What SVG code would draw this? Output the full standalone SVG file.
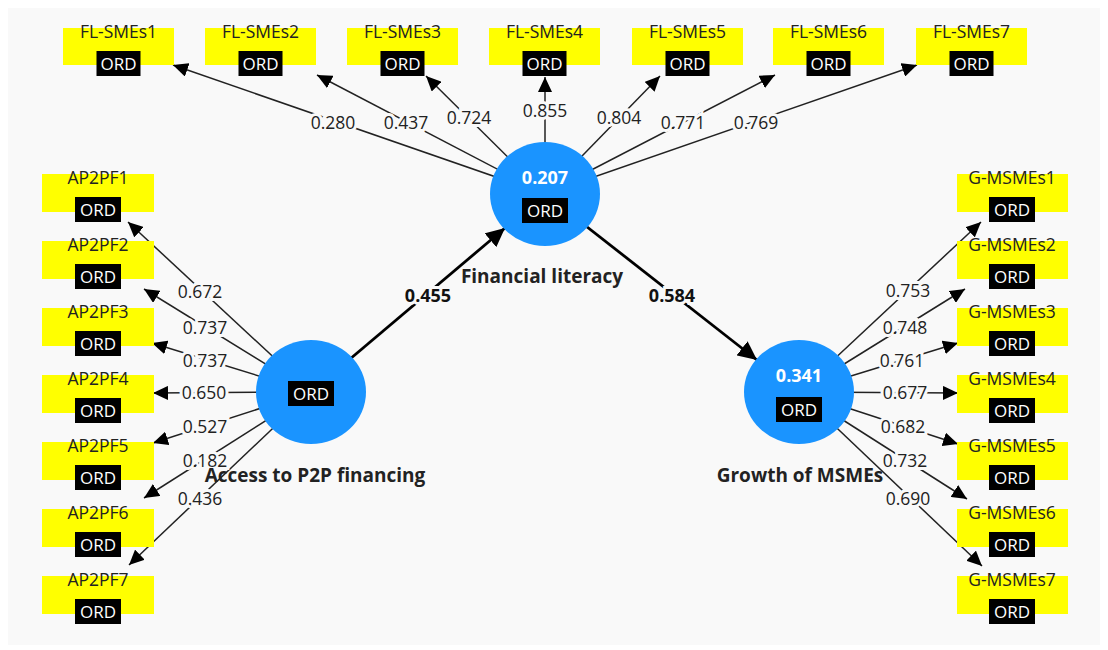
<svg xmlns="http://www.w3.org/2000/svg" width="1108" height="650" viewBox="0 0 1108 650">
<style>
.ind{fill:#ffff00}
.ordb{fill:#000}
.ordt{font-family:"Open Sans","Noto Sans",sans-serif;font-size:17px;fill:#fff;text-anchor:middle}
.name{font-family:"Open Sans","Noto Sans",sans-serif;font-size:17.5px;fill:#222;text-anchor:middle}
.lat{fill:#1a94ff}
.r2{font-family:"Open Sans","Noto Sans",sans-serif;font-size:18px;font-weight:bold;fill:#fff;text-anchor:middle}
.lname{font-family:"Open Sans","Noto Sans",sans-serif;font-size:19px;font-weight:bold;fill:#222;text-anchor:middle}
.w{font-family:"Open Sans","Noto Sans",sans-serif;font-size:17.5px;fill:#222;text-anchor:middle;stroke:#f9f9f9;stroke-width:6;paint-order:stroke}
.pw{font-family:"Open Sans","Noto Sans",sans-serif;font-size:18px;font-weight:bold;fill:#111;text-anchor:middle;stroke:#f9f9f9;stroke-width:6;paint-order:stroke}
.ln{stroke:#222;stroke-width:1.5;fill:none;marker-end:url(#ah)}
.pl{stroke:#000;stroke-width:2.8;fill:none;marker-end:url(#ahb)}
</style>
<defs>
<marker id="ah" markerUnits="userSpaceOnUse" markerWidth="16" markerHeight="14" refX="15" refY="7" orient="auto"><path d="M0,0 L15,7 L0,14 z" fill="#000"/></marker>
<marker id="ahb" markerUnits="userSpaceOnUse" markerWidth="20" markerHeight="18" refX="19" refY="9" orient="auto"><path d="M0,0 L19,9 L0,18 z" fill="#000"/></marker>
</defs>
<rect x="0" y="0" width="1108" height="650" fill="#fff"/>
<rect x="8" y="8" width="1092" height="637" fill="#f9f9f9"/>

<g id="connectors">
<line class="ln" x1="545" y1="194" x2="173" y2="65"/>
<line class="ln" x1="545" y1="194" x2="317" y2="75"/>
<line class="ln" x1="545" y1="194" x2="426" y2="76"/>
<line class="ln" x1="545" y1="194" x2="545" y2="77"/>
<line class="ln" x1="545" y1="194" x2="660" y2="76"/>
<line class="ln" x1="545" y1="194" x2="775" y2="75"/>
<line class="ln" x1="545" y1="194" x2="917" y2="65"/>
<line class="ln" x1="311" y1="392" x2="128" y2="222"/>
<line class="ln" x1="311" y1="392" x2="144" y2="289"/>
<line class="ln" x1="311" y1="392" x2="152" y2="343"/>
<line class="ln" x1="311" y1="392" x2="153" y2="393"/>
<line class="ln" x1="311" y1="392" x2="153" y2="443"/>
<line class="ln" x1="311" y1="392" x2="144" y2="498"/>
<line class="ln" x1="311" y1="392" x2="129" y2="565"/>
<line class="ln" x1="799" y1="392" x2="981" y2="222"/>
<line class="ln" x1="799" y1="392" x2="965" y2="289"/>
<line class="ln" x1="799" y1="392" x2="958" y2="343"/>
<line class="ln" x1="799" y1="392" x2="958" y2="393"/>
<line class="ln" x1="799" y1="392" x2="958" y2="444"/>
<line class="ln" x1="799" y1="392" x2="967" y2="499"/>
<line class="ln" x1="799" y1="392" x2="982" y2="566"/>
<line class="pl" x1="311" y1="392" x2="505" y2="228"/>
<line class="pl" x1="545" y1="194" x2="757" y2="360"/>
<text class="w" x="333" y="129">0.280</text>
<text class="w" x="406" y="129">0.437</text>
<text class="w" x="469" y="124">0.724</text>
<text class="w" x="545" y="117">0.855</text>
<text class="w" x="619" y="124">0.804</text>
<text class="w" x="683" y="129">0.771</text>
<text class="w" x="756" y="129">0.769</text>
<text class="w" x="200" y="298">0.672</text>
<text class="w" x="205" y="334">0.737</text>
<text class="w" x="205" y="367">0.737</text>
<text class="w" x="204" y="399">0.650</text>
<text class="w" x="205" y="433">0.527</text>
<text class="w" x="205" y="467">0.182</text>
<text class="w" x="200" y="505">0.436</text>
<text class="w" x="908" y="297">0.753</text>
<text class="w" x="905" y="334">0.748</text>
<text class="w" x="902" y="367">0.761</text>
<text class="w" x="905" y="399">0.677</text>
<text class="w" x="903" y="433">0.682</text>
<text class="w" x="905" y="467">0.732</text>
<text class="w" x="908" y="505">0.690</text>
<text class="pw" x="428" y="302">0.455</text>
<text class="pw" x="672" y="302">0.584</text>
</g>

<g id="FL-SMEs1"><rect class="ind" x="63" y="28" width="111" height="37"/><text class="name" x="118.5" y="38">FL-SMEs1</text><rect class="ordb" x="96.5" y="51" width="44" height="25"/><text class="ordt" x="118.5" y="70">ORD</text></g>
<g id="FL-SMEs2"><rect class="ind" x="205" y="28" width="111" height="37"/><text class="name" x="260.5" y="38">FL-SMEs2</text><rect class="ordb" x="238.5" y="51" width="44" height="25"/><text class="ordt" x="260.5" y="70">ORD</text></g>
<g id="FL-SMEs3"><rect class="ind" x="347" y="28" width="111" height="37"/><text class="name" x="402.5" y="38">FL-SMEs3</text><rect class="ordb" x="380.5" y="51" width="44" height="25"/><text class="ordt" x="402.5" y="70">ORD</text></g>
<g id="FL-SMEs4"><rect class="ind" x="489" y="28" width="111" height="37"/><text class="name" x="544.5" y="38">FL-SMEs4</text><rect class="ordb" x="522.5" y="51" width="44" height="25"/><text class="ordt" x="544.5" y="70">ORD</text></g>
<g id="FL-SMEs5"><rect class="ind" x="632" y="28" width="111" height="37"/><text class="name" x="687.5" y="38">FL-SMEs5</text><rect class="ordb" x="665.5" y="51" width="44" height="25"/><text class="ordt" x="687.5" y="70">ORD</text></g>
<g id="FL-SMEs6"><rect class="ind" x="773" y="28" width="111" height="37"/><text class="name" x="828.5" y="38">FL-SMEs6</text><rect class="ordb" x="806.5" y="51" width="44" height="25"/><text class="ordt" x="828.5" y="70">ORD</text></g>
<g id="FL-SMEs7"><rect class="ind" x="916" y="28" width="111" height="37"/><text class="name" x="971.5" y="38">FL-SMEs7</text><rect class="ordb" x="949.5" y="51" width="44" height="25"/><text class="ordt" x="971.5" y="70">ORD</text></g>

<g id="AP2PF1"><rect class="ind" x="42" y="174" width="112" height="38"/><text class="name" x="98" y="184">AP2PF1</text><rect class="ordb" x="75" y="197" width="46" height="25"/><text class="ordt" x="98" y="216">ORD</text></g>
<g id="AP2PF2"><rect class="ind" x="42" y="241" width="112" height="38"/><text class="name" x="98" y="251">AP2PF2</text><rect class="ordb" x="75" y="264" width="46" height="25"/><text class="ordt" x="98" y="283">ORD</text></g>
<g id="AP2PF3"><rect class="ind" x="42" y="308" width="112" height="38"/><text class="name" x="98" y="318">AP2PF3</text><rect class="ordb" x="75" y="331" width="46" height="25"/><text class="ordt" x="98" y="350">ORD</text></g>
<g id="AP2PF4"><rect class="ind" x="42" y="375" width="112" height="38"/><text class="name" x="98" y="385">AP2PF4</text><rect class="ordb" x="75" y="398" width="46" height="25"/><text class="ordt" x="98" y="417">ORD</text></g>
<g id="AP2PF5"><rect class="ind" x="42" y="442" width="112" height="38"/><text class="name" x="98" y="452">AP2PF5</text><rect class="ordb" x="75" y="465" width="46" height="25"/><text class="ordt" x="98" y="484">ORD</text></g>
<g id="AP2PF6"><rect class="ind" x="42" y="509" width="112" height="38"/><text class="name" x="98" y="519">AP2PF6</text><rect class="ordb" x="75" y="532" width="46" height="25"/><text class="ordt" x="98" y="551">ORD</text></g>
<g id="AP2PF7"><rect class="ind" x="42" y="576" width="112" height="38"/><text class="name" x="98" y="586">AP2PF7</text><rect class="ordb" x="75" y="599" width="46" height="25"/><text class="ordt" x="98" y="618">ORD</text></g>

<g id="G-MSMEs1"><rect class="ind" x="957" y="174" width="111" height="38"/><text class="name" x="1012" y="184">G-MSMEs1</text><rect class="ordb" x="989" y="197" width="46" height="25"/><text class="ordt" x="1012" y="216">ORD</text></g>
<g id="G-MSMEs2"><rect class="ind" x="957" y="241" width="111" height="38"/><text class="name" x="1012" y="251">G-MSMEs2</text><rect class="ordb" x="989" y="264" width="46" height="25"/><text class="ordt" x="1012" y="283">ORD</text></g>
<g id="G-MSMEs3"><rect class="ind" x="957" y="308" width="111" height="38"/><text class="name" x="1012" y="318">G-MSMEs3</text><rect class="ordb" x="989" y="331" width="46" height="25"/><text class="ordt" x="1012" y="350">ORD</text></g>
<g id="G-MSMEs4"><rect class="ind" x="957" y="375" width="111" height="38"/><text class="name" x="1012" y="385">G-MSMEs4</text><rect class="ordb" x="989" y="398" width="46" height="25"/><text class="ordt" x="1012" y="417">ORD</text></g>
<g id="G-MSMEs5"><rect class="ind" x="957" y="442" width="111" height="38"/><text class="name" x="1012" y="452">G-MSMEs5</text><rect class="ordb" x="989" y="465" width="46" height="25"/><text class="ordt" x="1012" y="484">ORD</text></g>
<g id="G-MSMEs6"><rect class="ind" x="957" y="509" width="111" height="38"/><text class="name" x="1012" y="519">G-MSMEs6</text><rect class="ordb" x="989" y="532" width="46" height="25"/><text class="ordt" x="1012" y="551">ORD</text></g>
<g id="G-MSMEs7"><rect class="ind" x="957" y="576" width="111" height="38"/><text class="name" x="1012" y="586">G-MSMEs7</text><rect class="ordb" x="989" y="599" width="46" height="25"/><text class="ordt" x="1012" y="618">ORD</text></g>

<g id="financial-literacy"><ellipse class="lat" cx="545" cy="194" rx="55" ry="52"/><text class="r2" x="545" y="184">0.207</text><rect class="ordb" x="522" y="198" width="46" height="25"/><text class="ordt" x="545" y="217">ORD</text><text class="lname" x="542" y="283">Financial literacy</text></g>
<g id="access-p2p"><ellipse class="lat" cx="311" cy="392" rx="55" ry="52"/><rect class="ordb" x="288" y="381" width="46" height="25"/><text class="ordt" x="311" y="400">ORD</text><text class="lname" x="315" y="482">Access to P2P financing</text></g>
<g id="growth-msmes"><ellipse class="lat" cx="799" cy="392" rx="55" ry="52"/><text class="r2" x="799" y="382">0.341</text><rect class="ordb" x="776" y="397" width="46" height="25"/><text class="ordt" x="799" y="416">ORD</text><text class="lname" x="800" y="482">Growth of MSMEs</text></g>
</svg>
